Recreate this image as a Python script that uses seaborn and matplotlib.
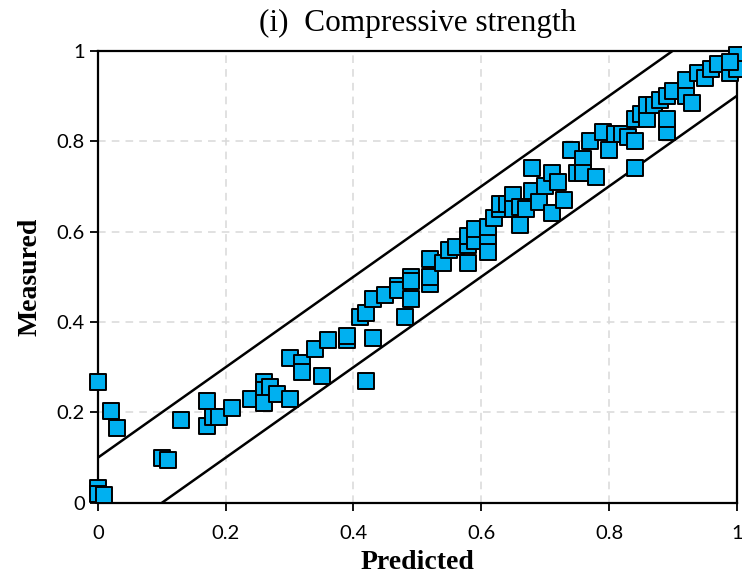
import matplotlib
matplotlib.use("Agg")
import matplotlib.pyplot as plt
import seaborn as sns
import numpy as np
import pandas as pd

predicted = [0.00, 0.02, 0.03, 0.00, 0.00, 0.01, 0.10, 0.11, 0.13, 0.17,
             0.17, 0.18, 0.19, 0.21, 0.24, 0.26, 0.26, 0.27, 0.26, 0.28,
             0.30, 0.30, 0.32, 0.32, 0.34, 0.35, 0.36, 0.39, 0.39, 0.42,
             0.43, 0.41, 0.42, 0.43, 0.45, 0.47, 0.47, 0.48, 0.49, 0.49,
             0.49, 0.52, 0.52, 0.52, 0.54, 0.55, 0.56, 0.58, 0.58, 0.58,
             0.59, 0.59, 0.61, 0.61, 0.61, 0.62, 0.63, 0.63, 0.64, 0.65,
             0.65, 0.66, 0.66, 0.67, 0.68, 0.68, 0.69, 0.70, 0.71, 0.71,
             0.72, 0.73, 0.74, 0.75, 0.76, 0.76, 0.77, 0.78, 0.79, 0.80,
             0.81, 0.82, 0.83, 0.84, 0.84, 0.84, 0.85, 0.86, 0.86, 0.87,
             0.88, 0.89, 0.89, 0.89, 0.90, 0.92, 0.92, 0.93, 0.94, 0.95,
             0.96, 0.97, 0.99, 1.00, 1.00, 0.99]
measured = [0.268, 0.204, 0.166, 0.033, 0.020, 0.018, 0.100, 0.095, 0.184, 0.226,
            0.170, 0.190, 0.190, 0.210, 0.230, 0.268, 0.250, 0.257, 0.220, 0.240,
            0.230, 0.320, 0.310, 0.290, 0.340, 0.280, 0.360, 0.360, 0.370, 0.270,
            0.365, 0.410, 0.420, 0.450, 0.460, 0.480, 0.470, 0.410, 0.450, 0.500,
            0.490, 0.485, 0.540, 0.500, 0.530, 0.560, 0.565, 0.570, 0.530, 0.590,
            0.580, 0.605, 0.555, 0.590, 0.610, 0.630, 0.650, 0.660, 0.660, 0.680,
            0.650, 0.615, 0.655, 0.650, 0.740, 0.690, 0.665, 0.700, 0.730, 0.640,
            0.710, 0.670, 0.780, 0.730, 0.760, 0.730, 0.800, 0.720, 0.820, 0.780,
            0.815, 0.815, 0.810, 0.850, 0.800, 0.740, 0.860, 0.850, 0.880, 0.880,
            0.890, 0.820, 0.850, 0.900, 0.910, 0.935, 0.900, 0.885, 0.950, 0.940,
            0.960, 0.970, 0.950, 0.990, 0.960, 0.975]

line_x = [0.0, 1.0]
upper_y = [0.1, 1.1]
lower_y = [-0.1, 0.9]

tick_vals = [0, 0.2, 0.4, 0.6, 0.8, 1]
tick_labels = ["0", "0.2", "0.4", "0.6", "0.8", "1"]

sns.set_theme(style="white")
plt.rcParams["font.family"] = ["Lato", "DejaVu Sans"]

fig = plt.figure(figsize=(7.42, 5.76), dpi=100)
ax = fig.add_axes([0.132, 0.127, 0.861, 0.785])

df = pd.DataFrame({"Predicted": predicted, "Measured": measured})
lines = pd.DataFrame({"x": line_x, "up": upper_y, "lo": lower_y})

sns.lineplot(data=lines, x="x", y="up", color="black", lw=1.8, ax=ax, zorder=2)
sns.lineplot(data=lines, x="x", y="lo", color="black", lw=1.8, ax=ax, zorder=2)
sns.scatterplot(data=df, x="Predicted", y="Measured", marker="s", s=120,
                color="#00B0F0", edgecolor="black", linewidth=1.4, ax=ax,
                zorder=3, clip_on=False)

ax.set_xlim(0, 1)
ax.set_ylim(0, 1)
ax.set_xticks(tick_vals)
ax.set_xticklabels(tick_labels)
ax.set_yticks(tick_vals)
ax.set_yticklabels(tick_labels)
ax.grid(True, color="#d9d9d9", linestyle=(0, (5, 4)), linewidth=1.1)
ax.set_axisbelow(True)
for s in ax.spines.values():
    s.set_color("black")
    s.set_linewidth(1.6)
ax.tick_params(axis="both", which="major", direction="out", length=6, width=1.3,
               color="black", labelsize=14.5, labelcolor="black", bottom=True, left=True)
ax.tick_params(axis="x", pad=10)

ax.set_xlabel("Predicted", fontsize=20, fontweight="bold", family="Liberation Serif",
              color="black", labelpad=6)
ax.set_ylabel("Measured", fontsize=20, fontweight="bold", family="Liberation Serif",
              color="black", labelpad=10)
ax.set_title("(i)  Compressive strength", fontsize=22.5, family="Liberation Serif",
             color="black", pad=14)

fig.savefig("out.png", dpi=100)
